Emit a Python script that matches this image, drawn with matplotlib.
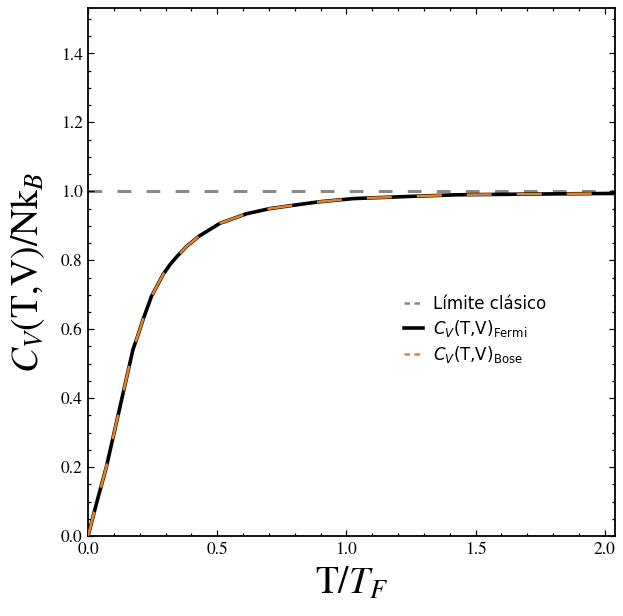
import matplotlib
matplotlib.use("Agg")
import matplotlib.pyplot as plt
from matplotlib.lines import Line2D
from matplotlib.ticker import MultipleLocator, FormatStrFormatter

# Heat capacity of the ideal 1D gas vs reduced temperature
t_reduced = [0.0, 0.033, 0.071, 0.136, 0.149, 0.174, 0.194, 0.213, 0.246,
             0.291, 0.317, 0.343, 0.381, 0.430, 0.510, 0.614, 0.704, 0.808,
             0.898, 1.027, 1.234, 1.428, 1.700, 2.040]
cv_fermi = [0.0, 0.095, 0.200, 0.415, 0.458, 0.541, 0.584, 0.628, 0.696,
            0.759, 0.787, 0.810, 0.840, 0.870, 0.907, 0.935, 0.950, 0.961,
            0.970, 0.979, 0.985, 0.990, 0.992, 0.994]
cv_bose = list(cv_fermi)
classical_limit = 1.0

x_ticks = [0.0, 0.5, 1.0, 1.5, 2.0]
y_ticks = [0.0, 0.2, 0.4, 0.6, 0.8, 1.0, 1.2, 1.4]

legend_labels = ["Límite clásico",
                 r"$C_V$(T,V)$_{\mathrm{Fermi}}$",
                 r"$C_V$(T,V)$_{\mathrm{Bose}}$"]

orange = "#E8822A"
gray = "#8a8a8a"

plt.rcParams["mathtext.fontset"] = "stix"

fig = plt.figure(figsize=(6.23, 6.16), dpi=100)
ax = fig.add_axes([88 / 623, 80 / 616, 527 / 623, 528 / 616])

ax.axhline(classical_limit, color=gray, lw=2.2, linestyle=(0, (4.5, 5)), zorder=1)
ax.plot(t_reduced, cv_fermi, color="black", lw=2.6, solid_capstyle="butt",
        solid_joinstyle="round", zorder=2)
ax.plot(t_reduced, cv_bose, color=orange, lw=1.8, linestyle=(0, (10, 10)),
        dash_joinstyle="round", zorder=3)

ax.set_xlim(0, 2.04)
ax.set_ylim(0, 1.532)
ax.set_xticks(x_ticks)
ax.set_yticks(y_ticks)
ax.xaxis.set_minor_locator(MultipleLocator(0.1))
ax.yaxis.set_minor_locator(MultipleLocator(0.05))
ax.xaxis.set_major_formatter(FormatStrFormatter("%.1f"))
ax.yaxis.set_major_formatter(FormatStrFormatter("%.1f"))
ax.tick_params(which="both", direction="in", top=True, right=True,
               width=0.9, colors="black")
ax.tick_params(which="major", length=4.5, labelsize=12.5, pad=4)
ax.tick_params(which="minor", length=2.5)
for lab in ax.get_xticklabels() + ax.get_yticklabels():
    lab.set_family("STIXGeneral")
for sp in ax.spines.values():
    sp.set_linewidth(1.3)

ax.set_xlabel(r"T/$T_F$", fontsize=27, family="STIXGeneral", labelpad=6)
ax.set_ylabel(r"$C_V$(T,V)/Nk$_B$", fontsize=27, family="STIXGeneral")
ax.yaxis.set_label_coords(-0.078, 0.5)

handles = [
    Line2D([], [], color=gray, lw=1.8, linestyle=(0, (2.2, 1.8))),
    Line2D([], [], color="black", lw=2.6),
    Line2D([], [], color=orange, lw=1.8, linestyle=(0, (2.2, 1.8))),
]
leg = ax.legend(handles, legend_labels, loc="center left",
                bbox_to_anchor=(0.6, 0.39), frameon=False, fontsize=12,
                handlelength=1.15, handletextpad=0.55, labelspacing=0.3,
                borderpad=0, borderaxespad=0)
for txt in leg.get_texts():
    txt.set_family("DejaVu Sans")
    txt.set_math_fontfamily("dejavusans")

fig.savefig("out.png", dpi=100)
